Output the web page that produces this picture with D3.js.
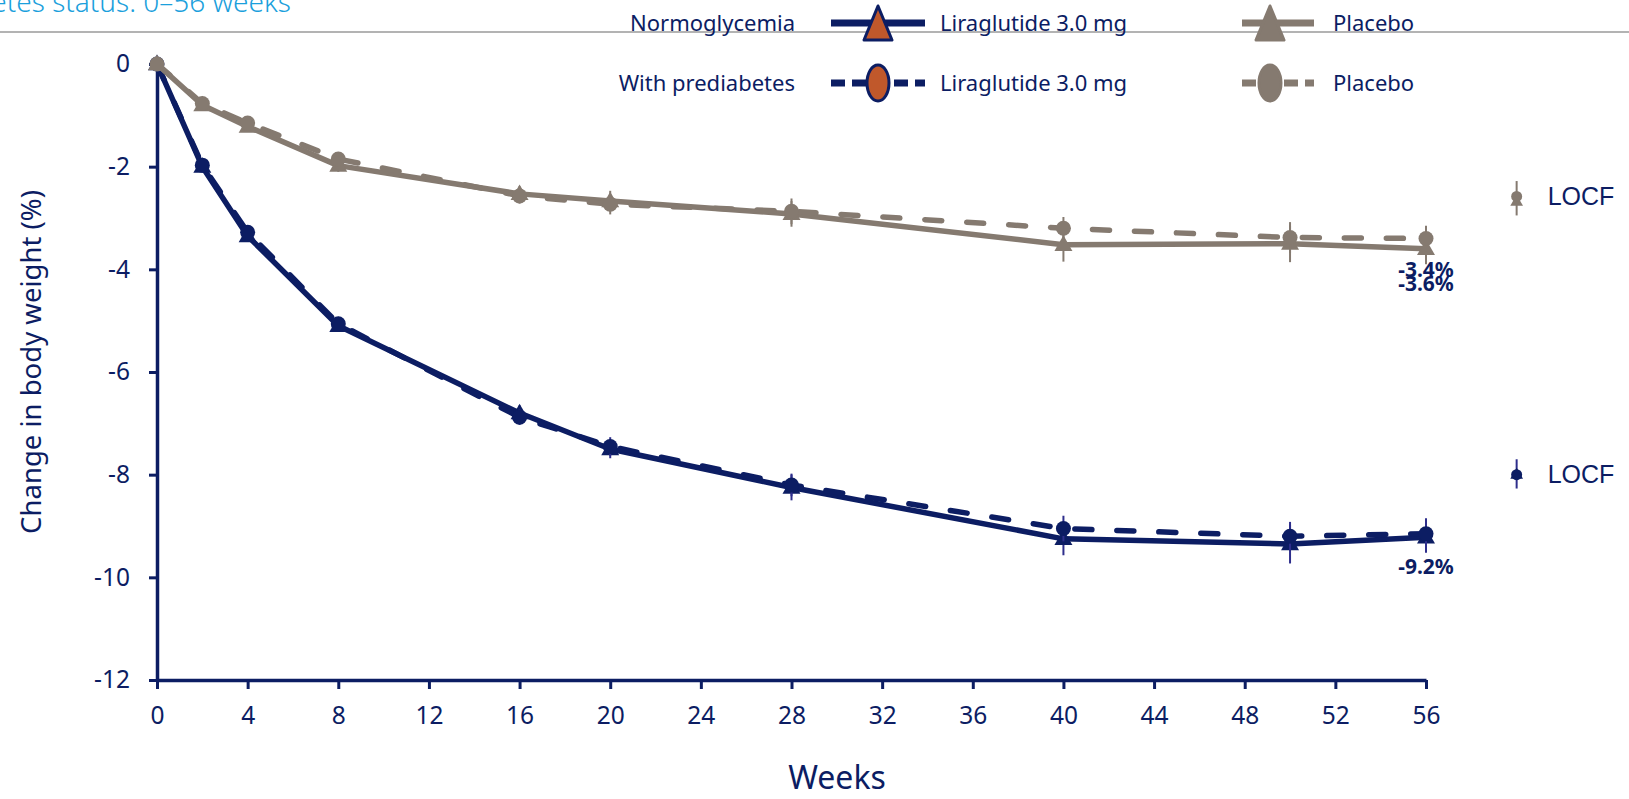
<!DOCTYPE html>
<html>
<head>
<meta charset="utf-8">
<script src="https://cdn.jsdelivr.net/npm/d3@7"></script>
<style>
  body { margin: 0; background: #fff; }
  svg { display: block; }
</style>
</head>
<body>
<div id="chart"></div>
<script>
// Weeks of measurement
const weeks = [0, 2, 4, 8, 16, 20, 28, 40, 50, 56];

// Mean change in body weight (%)
const liraNormo = [0, -2.0, -3.35, -5.1, -6.8, -7.5, -8.25, -9.25, -9.35, -9.22];
const liraPre   = [0, -1.97, -3.28, -5.06, -6.88, -7.45, -8.2, -9.05, -9.2, -9.15];
const placNormo = [0, -0.8, -1.22, -1.98, -2.53, -2.67, -2.92, -3.52, -3.5, -3.6];
const placPre   = [0, -0.77, -1.15, -1.85, -2.57, -2.73, -2.87, -3.2, -3.38, -3.4];

// error bar half-lengths
const liraNormoSE = [0, 0.08, 0.1, 0.12, 0.15, 0.18, 0.25, 0.32, 0.38, 0.3];
const liraPreSE   = [0, 0.08, 0.1, 0.12, 0.15, 0.18, 0.22, 0.25, 0.28, 0.3];
const placNormoSE = [0, 0.08, 0.1, 0.12, 0.15, 0.2, 0.25, 0.33, 0.36, 0.3];
const placPreSE   = [0, 0.08, 0.1, 0.12, 0.15, 0.2, 0.25, 0.22, 0.3, 0.25];

// LOCF points drawn beside the plot
const locfWeek = 60;
const locfLira = [-8.0, -7.97];   // prediabetes, normoglycemia
const locfPlac = [-2.58, -2.65];
const locfSE = [0.3, 0.3];

// End of study labels
const endLabels = [
  { text: "-3.4%", value: -3.4, dy: 0 },
  { text: "-3.6%", value: -3.4, dy: 14 },
  { text: "-9.2%", value: -9.2, dy: 0 }
];

const yTicks = [0, -2, -4, -6, -8, -10, -12];
const xTicks = d3.range(0, 57, 4);

const navy = "#0c1d63";
const grey = "#857a70";
const orange = "#c0582b";
const font = "'Noto Sans', 'Open Sans', sans-serif";

const W = 1629, H = 799;

const svg = d3.select("#chart").append("svg")
  .attr("width", W)
  .attr("height", H);

const x = d3.scaleLinear().domain([0, 56]).range([157, 1426]);
const y = d3.scaleLinear().domain([-12, 0]).range([680, 64]);

// Clipped title + rule
svg.append("text")
  .attr("x", 291).attr("y", 12)
  .attr("text-anchor", "end")
  .style("font-family", font)
  .style("font-size", "28px")
  .style("font-weight", 300)
  .style("fill", "#1ba0dc")
  .text("Change in body weight by prediabetes status: 0–56 weeks");

svg.append("line")
  .attr("x1", 0).attr("x2", W)
  .attr("y1", 32).attr("y2", 32)
  .style("stroke", "#9a9a9a")
  .style("stroke-width", 1.5);

// Axes
const yAxis = svg.append("g")
  .attr("transform", `translate(${x(0)},0)`)
  .call(d3.axisLeft(y).tickValues(yTicks).tickSize(8).tickSizeOuter(0).tickPadding(19).tickFormat(d => String(d)));

const xAxis = svg.append("g")
  .attr("transform", `translate(0,${y(-12)})`)
  .call(d3.axisBottom(x).tickValues(xTicks).tickSize(9).tickSizeOuter(0).tickPadding(18).tickFormat(d => String(d)));

[yAxis, xAxis].forEach(a => {
  a.select(".domain").style("stroke", navy).style("stroke-width", 3.5);
  a.selectAll(".tick line").style("stroke", navy).style("stroke-width", 3);
  a.selectAll(".tick text")
    .style("fill", navy)
    .style("font-family", font)
    .style("font-size", "24.5px");
});

svg.append("text")
  .attr("transform", "translate(31,362) rotate(-90)")
  .attr("text-anchor", "middle")
  .attr("dy", "0.35em")
  .style("font-family", font)
  .style("font-size", "27.5px")
  .style("fill", navy)
  .text("Change in body weight (%)");

svg.append("text")
  .attr("x", 837).attr("y", 789)
  .attr("text-anchor", "middle")
  .style("font-family", font)
  .style("font-size", "32px")
  .style("fill", navy)
  .text("Weeks");

// Series
const series = [
  { vals: liraNormo, se: liraNormoSE, color: navy, dash: null, marker: "tri", bar: "#2e2e8c" },
  { vals: liraPre, se: liraPreSE, color: navy, dash: "17 25", marker: "circle", bar: "#2e2e8c" },
  { vals: placNormo, se: placNormoSE, color: grey, dash: null, marker: "tri", bar: grey },
  { vals: placPre, se: placPreSE, color: grey, dash: "17 25", marker: "circle", bar: grey }
];

const line = d3.line()
  .x(d => x(d.w))
  .y(d => y(d.v));

const tri = d3.symbol().type(d3.symbolTriangle).size(140);
const triSmall = d3.symbol().type(d3.symbolTriangle).size(70);

series.forEach(s => {
  const pts = weeks.map((w, i) => ({ w: w, v: s.vals[i], e: s.se[i] }));
  const g = svg.append("g");

  g.selectAll(".err").data(pts).enter().append("line")
    .attr("x1", d => x(d.w)).attr("x2", d => x(d.w))
    .attr("y1", d => y(d.v - d.e)).attr("y2", d => y(d.v + d.e))
    .style("stroke", s.bar)
    .style("stroke-width", 2);

  g.append("path")
    .attr("d", line(pts))
    .style("fill", "none")
    .style("stroke", s.color)
    .style("stroke-width", 5.5)
    .style("stroke-linecap", s.dash ? "round" : "butt")
    .style("stroke-linejoin", "round")
    .style("stroke-dasharray", s.dash);

  if (s.marker === "tri") {
    g.selectAll(".m").data(pts).enter().append("path")
      .attr("transform", d => `translate(${x(d.w)},${y(d.v) + 1})`)
      .attr("d", tri)
      .style("fill", s.color);
  } else {
    g.selectAll(".m").data(pts).enter().append("circle")
      .attr("cx", d => x(d.w))
      .attr("cy", d => y(d.v))
      .attr("r", 7.5)
      .style("fill", s.color);
  }
});

// LOCF markers
[{ vals: locfLira, color: navy, bar: "#2e2e8c" }, { vals: locfPlac, color: grey, bar: grey }].forEach(s => {
  const cx = x(locfWeek);
  svg.append("line")
    .attr("x1", cx).attr("x2", cx)
    .attr("y1", y(s.vals[0] + locfSE[0])).attr("y2", y(s.vals[1] - locfSE[1]))
    .style("stroke", s.bar).style("stroke-width", 2);
  svg.append("path")
    .attr("transform", `translate(${cx},${y(s.vals[1]) + 2})`)
    .attr("d", triSmall)
    .style("fill", s.color);
  svg.append("circle")
    .attr("cx", cx).attr("cy", y(s.vals[0]))
    .attr("r", 5.5)
    .style("fill", s.color);
  svg.append("text")
    .attr("x", cx + 31).attr("y", y(s.vals[0]))
    .attr("dy", "0.35em")
    .style("font-family", "'Liberation Sans', Arial, sans-serif")
    .style("font-size", "25px")
    .style("fill", navy)
    .text("LOCF");
});

// End labels
svg.selectAll(".endlab").data(endLabels).enter().append("text")
  .attr("x", x(56))
  .attr("y", d => y(d.value) + 38 + d.dy)
  .attr("text-anchor", "middle")
  .style("font-family", font)
  .style("font-size", "21px")
  .style("font-weight", "bold")
  .style("fill", navy)
  .text(d => d.text);

// Legend
const legendRows = [
  { label: "Normoglycemia", y: 23, dash: null, marker: "tri" },
  { label: "With prediabetes", y: 83, dash: "14 7", marker: "ellipse" }
];
const legendCols = [
  { x1: 831, x2: 925, cx: 878, text: "Liraglutide 3.0 mg", tx: 940, color: navy, fill: orange },
  { x1: 1242, x2: 1314, cx: 1270, text: "Placebo", tx: 1333, color: grey, fill: grey }
];

legendRows.forEach(r => {
  svg.append("text")
    .attr("x", 795).attr("y", r.y)
    .attr("text-anchor", "end")
    .attr("dy", "0.35em")
    .style("font-family", font)
    .style("font-size", "22px")
    .style("fill", navy)
    .text(r.label);

  legendCols.forEach(c => {
    svg.append("line")
      .attr("x1", c.x1).attr("x2", c.x2)
      .attr("y1", r.y).attr("y2", r.y)
      .style("stroke", c.color)
      .style("stroke-width", 7)
      .style("stroke-dasharray", r.dash);
    if (r.marker === "tri") {
      svg.append("path")
        .attr("d", `M${c.cx},${r.y - 17} L${c.cx + 14},${r.y + 17} L${c.cx - 14},${r.y + 17} Z`)
        .style("fill", c.fill)
        .style("stroke", c.color)
        .style("stroke-width", 3)
        .style("stroke-linejoin", "round");
    } else {
      svg.append("ellipse")
        .attr("cx", c.cx).attr("cy", r.y)
        .attr("rx", 11).attr("ry", 18)
        .style("fill", c.fill)
        .style("stroke", c.color)
        .style("stroke-width", 3);
    }
    svg.append("text")
      .attr("x", c.tx).attr("y", r.y)
      .attr("dy", "0.35em")
      .style("font-family", font)
      .style("font-size", "22px")
      .style("fill", navy)
      .text(c.text);
  });
});
</script>
</body>
</html>
